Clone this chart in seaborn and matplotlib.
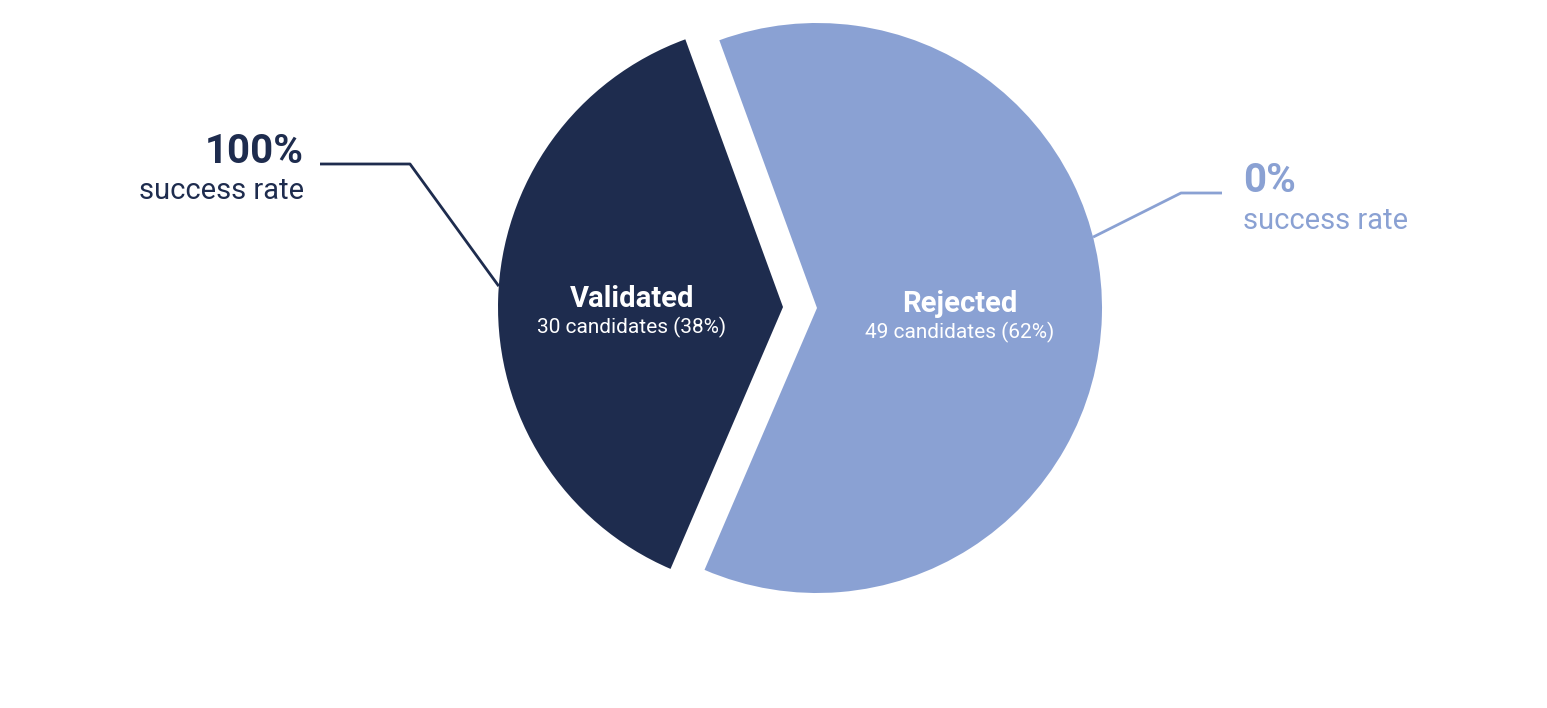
import numpy as np
import matplotlib
matplotlib.use('Agg')
import matplotlib.pyplot as plt
import seaborn as sns

# chart data
labels = ['Validated', 'Rejected']
counts = [30, 49]
success_rates = ['100%', '0%']
colors = ['#1E2C4E', '#8AA1D3']

total = sum(counts)
shares = [c / total * 100 for c in counts]

sns.set_style('white')
plt.rcParams['font.family'] = ['Roboto', 'DejaVu Sans']

W, H = 1547, 708
fig = plt.figure(figsize=(W / 100, H / 100), dpi=100)
ax = fig.add_axes([0, 0, 1, 1])

cx, cy, r = 817, H - 308, 285
# pie explode is in data units here (pixels), not a fraction of radius
gap = 34
explode = [gap, 0]
# Validated sits on the left, slightly tilted
mid = 178.4
start = mid - shares[0] / 100 * 360 / 2
wedges, _ = ax.pie(counts, colors=colors, startangle=start, counterclock=True,
                   explode=explode, center=(cx, cy), radius=r,
                   wedgeprops=dict(linewidth=0), frame=True)
ax.set_xlim(0, W)
ax.set_ylim(0, H)
ax.set_aspect('equal')
ax.axis('off')

# labels inside the slices
inner = [(632, 307, 333), (960, 312, 338)]
for lab, c, s, (x, y1, y2) in zip(labels, counts, shares, inner):
    ax.text(x, H - y1, lab, color='white', fontsize=21, fontweight='bold',
            ha='center', va='baseline')
    ax.text(x, H - y2, f'{c} candidates ({s:.0f}%)', color='white', fontsize=15,
            ha='center', va='baseline')

# callouts with leader lines
vcx = cx + gap * np.cos(np.deg2rad(mid))
vcy = cy + gap * np.sin(np.deg2rad(mid))
a = np.deg2rad(175.8)
p0 = (vcx + r * np.cos(a), vcy + r * np.sin(a))
ax.plot([320, 410, p0[0]], [H - 164, H - 164, p0[1]], color=colors[0], lw=2,
        solid_capstyle='butt')
ax.text(304, H - 163, success_rates[0], color=colors[0], fontsize=29,
        fontweight='bold', ha='right', va='baseline')
ax.text(304, H - 199, 'success rate', color=colors[0], fontsize=21,
        ha='right', va='baseline')

a = np.deg2rad(14.4)
p1 = (cx + r * np.cos(a), cy + r * np.sin(a))
ax.plot([1222, 1181, p1[0]], [H - 193, H - 193, p1[1]], color=colors[1], lw=2,
        solid_capstyle='butt')
ax.text(1243, H - 192, success_rates[1], color=colors[1], fontsize=29,
        fontweight='bold', ha='left', va='baseline')
ax.text(1243, H - 229, 'success rate', color=colors[1], fontsize=21,
        ha='left', va='baseline')

fig.savefig('out.png', dpi=100, facecolor='white')
